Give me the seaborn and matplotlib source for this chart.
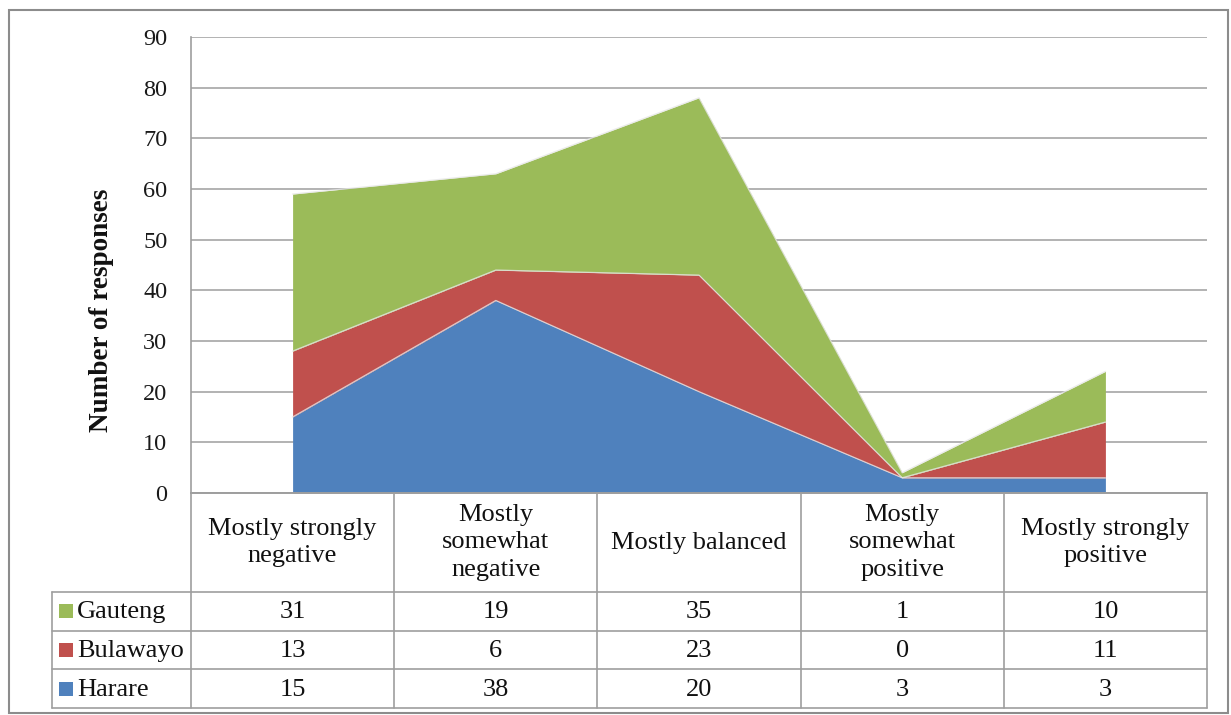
import numpy as np
import matplotlib
matplotlib.use("Agg")
import matplotlib.pyplot as plt
from matplotlib.patches import Rectangle
import seaborn as sns

# Response categories and counts per region
categories = ["Mostly strongly\nnegative", "Mostly\nsomewhat\nnegative", "Mostly balanced",
              "Mostly\nsomewhat\npositive", "Mostly strongly\npositive"]
harare = [15, 38, 20, 3, 3]
bulawayo = [13, 6, 23, 0, 11]
gauteng = [31, 19, 35, 1, 10]
y_ticks = list(range(0, 100, 10))

series_names = ["Harare", "Bulawayo", "Gauteng"]
series_values = [harare, bulawayo, gauteng]
palette = {"Harare": "#4F81BD", "Bulawayo": "#C0504D", "Gauteng": "#9BBB59"}

sns.set_theme(style="white")
plt.rcParams["font.family"] = ["Liberation Serif", "DejaVu Serif"]

W, H = 1231, 715
fig = plt.figure(figsize=(W / 100, H / 100), dpi=100)
fig.patch.set_facecolor("white")


def box(x0, y0, x1, y1):
    return [x0 / W, 1 - y1 / H, (x1 - x0) / W, (y1 - y0) / H]


grid_col = "#A6A6A6"
line_col = "#9E9E9E"

# ---- stacked area chart ----
ax = fig.add_axes(box(191, 37, 1207, 493))
ax.set_facecolor("white")
x = np.arange(len(categories))
base = np.zeros(len(categories))
for name, vals in zip(series_names, series_values):
    top = base + np.array(vals)
    ax.fill_between(x, base, top, color=palette[name], linewidth=0, zorder=2)
    base = top
# thin light seams along the top of each layer
base = np.zeros(len(categories))
for name, vals in zip(series_names, series_values):
    base = base + np.array(vals)
    ax.plot(x, base, color="#E6E6E6", lw=0.9, alpha=0.8, zorder=3)

ax.set_xlim(-0.5, len(categories) - 0.5)
ax.set_ylim(0, 90)
ax.set_yticks(y_ticks)
ax.set_xticks([])
ax.yaxis.grid(True, color=grid_col, lw=1.2, zorder=0)
ax.set_axisbelow(True)
ax.tick_params(axis="y", length=0, pad=17, labelsize=17.5, labelcolor="#1a1a1a")
for s in ["top", "right"]:
    ax.spines[s].set_visible(False)
ax.spines["left"].set_color(line_col)
ax.spines["bottom"].set_color(line_col)
ax.spines["left"].set_linewidth(1.2)
ax.spines["bottom"].set_linewidth(1.2)

fig.text(102 / W, 1 - 310 / H, "Number of responses", rotation=90, ha="center", va="center",
         fontsize=19.5, fontweight="bold", color="#111111")

# ---- data table below the chart ----
tax = fig.add_axes(box(191, 493, 1207, 708))
tax.set_xlim(-0.5, len(categories) - 0.5)
tax.set_ylim(215, 0)
tax.axis("off")

col_px = (1207 - 191) / len(categories)


def tx(px):
    return (px - 191) / col_px - 0.5


leg_left = tx(52)
header_h = 99
row_edges = [header_h, header_h + 38.5, header_h + 77, 215]
lkw = dict(color=line_col, lw=1.2, clip_on=False)

# vertical lines
for i in range(len(categories) + 1):
    tax.plot([i - 0.5, i - 0.5], [0, 215], **lkw)
tax.plot([leg_left, leg_left], [row_edges[0], 215], **lkw)
# horizontal lines
tax.plot([-0.5, len(categories) - 0.5], [0, 0], **lkw)
for ye in row_edges:
    tax.plot([leg_left, len(categories) - 0.5], [ye, ye], **lkw)

for i, cat in enumerate(categories):
    tax.text(i, header_h / 2, cat, ha="center", va="center", fontsize=19,
             linespacing=1.35, color="#111111")

table_rows = [("Gauteng", gauteng), ("Bulawayo", bulawayo), ("Harare", harare)]
for r, (name, vals) in enumerate(table_rows):
    yc = (row_edges[r] + row_edges[r + 1]) / 2
    tax.add_patch(Rectangle((tx(59), yc - 7), tx(73) - tx(59), 14,
                            facecolor=palette[name], edgecolor="none", clip_on=False))
    tax.text(tx(77), yc + 1, name, ha="left", va="center", fontsize=19, color="#111111",
             clip_on=False)
    for i, v in enumerate(vals):
        tax.text(i, yc + 1, str(v), ha="center", va="center", fontsize=19, color="#111111")

# outer chart border
fig.add_artist(Rectangle((9 / W, 1 - 713 / H), (1228 - 9) / W, (713 - 10) / H,
                         transform=fig.transFigure, fill=False, edgecolor="#8C8C8C", lw=1.5))

fig.savefig("out.png", dpi=100, facecolor="white")
